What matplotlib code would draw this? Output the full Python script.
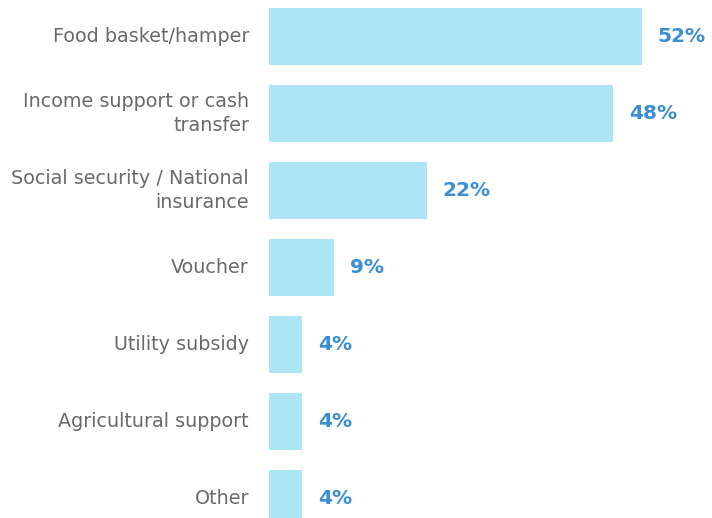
import matplotlib
matplotlib.use("Agg")
import matplotlib.pyplot as plt

categories = ["Food basket/hamper", "Income support or cash\ntransfer",
              "Social security / National\ninsurance", "Voucher",
              "Utility subsidy", "Agricultural support", "Other"]
values = [52, 48, 22, 9, 4.6, 4.6, 4.6]
value_labels = ["52%", "48%", "22%", "9%", "4%", "4%", "4%"]

W, H = 712, 518
fig = plt.figure(figsize=(W / 100, H / 100), dpi=100)
left_px = 269
ax = fig.add_axes([left_px / W, 0, 1 - left_px / W, 1])

px_per_unit = (641.7 - 269) / 52.0
ax.set_xlim(0, (W - left_px) / px_per_unit)
ax.set_ylim((518 - 36.5) / 77.0, -36.5 / 77.0)

y = list(range(len(categories)))
ax.barh(y, values, height=0.74, color="#ADE5F5", edgecolor="none")

for yi, v, lab in zip(y, values, value_labels):
    ax.annotate(lab, (v, yi), xytext=(16, 0), textcoords="offset pixels",
                ha="left", va="center", fontsize=14.5, fontweight="bold",
                color="#3A8FD3", family="DejaVu Sans")

for yi, cat in zip(y, categories):
    ax.annotate(cat, (0, yi), xytext=(-20, 0), textcoords="offset pixels",
                ha="right", va="center", fontsize=13.8, color="#6a6a6a",
                family="DejaVu Sans", fontweight="normal",
                linespacing=1.35, annotation_clip=False)

ax.axis("off")
fig.savefig("out.png", dpi=100)
